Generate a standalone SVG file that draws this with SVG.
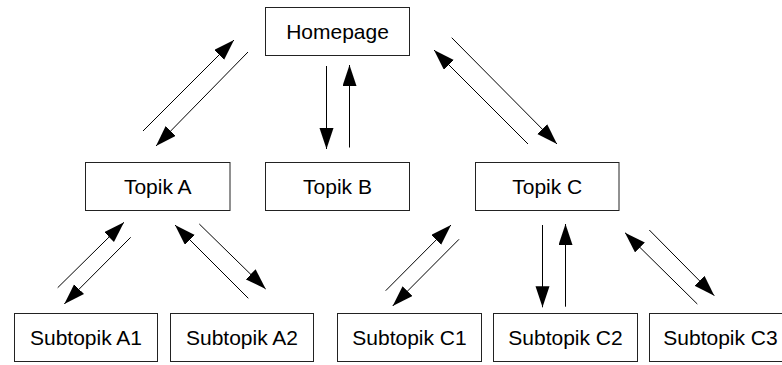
<svg xmlns="http://www.w3.org/2000/svg" width="782" height="365" viewBox="0 0 782 365">
<style>
.box{fill:#fff;stroke:#222;stroke-width:1}
.lbl{font-family:"Liberation Sans",Arial,sans-serif;font-size:21px;fill:#000;text-anchor:middle}
.con{stroke:#000;stroke-width:1;fill:none;marker-end:url(#ah)}
</style>
<defs>
<marker id="ah" markerUnits="userSpaceOnUse" markerWidth="22" markerHeight="15" refX="21" refY="7" orient="auto">
<path d="M0,0 L21,7 L0,14 z" fill="#000"/>
</marker>
</defs>
<rect width="782" height="365" fill="#fff"/>
<g id="homepage"><rect class="box" x="265.5" y="7.5" width="144" height="48"/><text class="lbl" x="337.5" y="39">Homepage</text></g>
<g id="topikA"><rect class="box" x="85.5" y="162.5" width="144.5" height="48"/><text class="lbl" x="157.75" y="194">Topik A</text></g>
<g id="topikB"><rect class="box" x="265.5" y="162.5" width="144" height="48"/><text class="lbl" x="337.5" y="194">Topik B</text></g>
<g id="topikC"><rect class="box" x="475.5" y="162.5" width="143.5" height="48"/><text class="lbl" x="547.25" y="194">Topik C</text></g>
<g id="subA1"><rect class="box" x="14.5" y="313.5" width="143" height="48"/><text class="lbl" x="86" y="345">Subtopik A1</text></g>
<g id="subA2"><rect class="box" x="170.5" y="313.5" width="143" height="48"/><text class="lbl" x="242" y="345">Subtopik A2</text></g>
<g id="subC1"><rect class="box" x="337.5" y="313.5" width="144" height="48"/><text class="lbl" x="409.5" y="345">Subtopik C1</text></g>
<g id="subC2"><rect class="box" x="493.5" y="313.5" width="144" height="48"/><text class="lbl" x="565.5" y="345">Subtopik C2</text></g>
<g id="subC3"><rect class="box" x="649.5" y="313.5" width="144" height="48"/><text class="lbl" x="720.5" y="345">Subtopik C3</text></g>
<g id="connectors">
<line class="con" x1="248" y1="52" x2="156" y2="146"/>
<line class="con" x1="143" y1="131" x2="234" y2="40"/>
<line class="con" x1="326.5" y1="66" x2="326.5" y2="149"/>
<line class="con" x1="349.5" y1="147.5" x2="349.5" y2="65"/>
<line class="con" x1="451.7" y1="37.7" x2="557" y2="144"/>
<line class="con" x1="528" y1="144" x2="434" y2="50"/>
<line class="con" x1="130.7" y1="237.3" x2="64.3" y2="304"/>
<line class="con" x1="57.7" y1="287.7" x2="124" y2="222.3"/>
<line class="con" x1="199.3" y1="224" x2="265.7" y2="289"/>
<line class="con" x1="248.3" y1="298.3" x2="175" y2="225"/>
<line class="con" x1="459" y1="239.3" x2="392.7" y2="306"/>
<line class="con" x1="385.7" y1="290.7" x2="451" y2="225"/>
<line class="con" x1="542.5" y1="225" x2="542.5" y2="307.3"/>
<line class="con" x1="565.5" y1="306.7" x2="565.5" y2="224"/>
<line class="con" x1="649.3" y1="230" x2="714.3" y2="295.7"/>
<line class="con" x1="697.3" y1="304" x2="625" y2="232.7"/>
</g>
</svg>
